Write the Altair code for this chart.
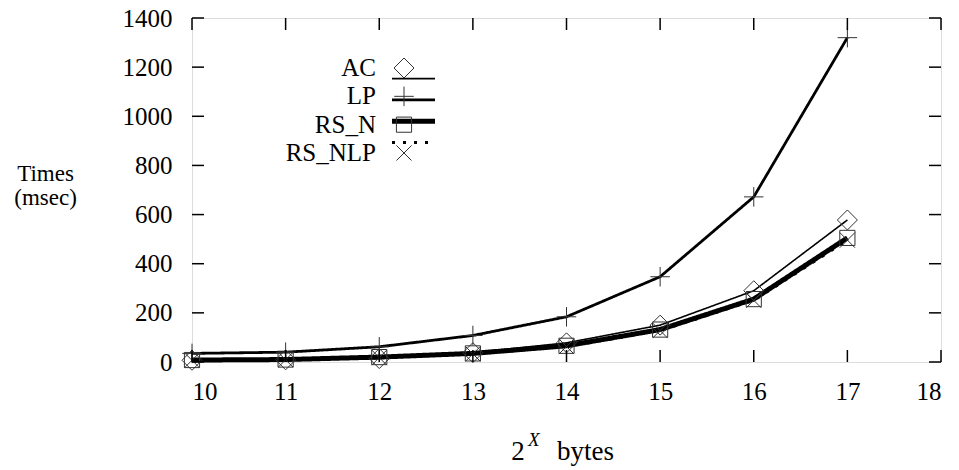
import altair as alt
import pandas as pd

# ---- data ----
x_vals = [10, 11, 12, 13, 14, 15, 16, 17]
ac = [7, 9, 14, 38, 78, 150, 290, 578]
lp = [35, 40, 62, 108, 184, 347, 672, 1320]
rs_n = [8, 10, 20, 35, 66, 132, 256, 505]
rs_nlp = [7, 9, 18, 33, 63, 128, 251, 496]
series = ["AC", "LP", "RS_N", "RS_NLP"]
x_ticks = [10, 11, 12, 13, 14, 15, 16, 17, 18]
y_ticks = [0, 200, 400, 600, 800, 1000, 1200, 1400]

FONT = "Liberation Serif"
FS = 25
W, H = 749, 344

rows = []
for name, vals in zip(series, [ac, lp, rs_n, rs_nlp]):
    for xv, yv in zip(x_vals, vals):
        rows.append({"x": xv, "y": yv, "series": name})
df = pd.DataFrame(rows)
xt = pd.DataFrame({"v": x_ticks})
yt = pd.DataFrame({"v": y_ticks})
leg = pd.DataFrame({"series": series})

plus_path = "M-1,0L1,0M0,-1L0,1"
x_path = "M-1,-1L1,1M-1,1L1,-1"

sw_scale = alt.Scale(type="ordinal", domain=series, range=[1.6, 2.8, 5, 3])
dash_scale = alt.Scale(domain=series, range=[[1, 0], [1, 0], [1, 0], [3, 8]])
shape_scale = alt.Scale(domain=series, range=["diamond", plus_path, "square", x_path])
size_scale = alt.Scale(type="ordinal", domain=series, range=[400, 380, 230, 230])

xs = alt.Scale(domain=[10, 18], nice=False)
ys = alt.Scale(domain=[0, 1400], nice=False)

x_enc = alt.X("x:Q", scale=xs,
              axis=alt.Axis(values=x_ticks, format="d", ticks=False, domain=False, grid=False,
                            labelFont=FONT, labelFontSize=FS, labelColor="black",
                            labelPadding=17, title=None))
y_enc = alt.Y("y:Q", scale=ys,
              axis=alt.Axis(values=y_ticks, format="d", ticks=False, domain=False, grid=False,
                            labelFont=FONT, labelFontSize=FS, labelColor="black",
                            labelPadding=20, title=["Times", "(msec)"], titleAngle=0,
                            titleFont=FONT, titleFontSize=23, titleFontWeight="normal",
                            titleColor="black", titleAlign="center", titleBaseline="middle",
                            titleX=-147, titleY=155, titleLineHeight=24))

lines = alt.Chart(df).mark_line(color="black").encode(
    x=x_enc, y=y_enc, detail="series:N",
    strokeWidth=alt.StrokeWidth("series:N", scale=sw_scale, legend=None),
    strokeDash=alt.StrokeDash("series:N", scale=dash_scale, legend=None),
)
points = alt.Chart(df).mark_point(filled=False, color="#333", strokeWidth=1, opacity=1).encode(
    x=alt.X("x:Q", scale=xs), y=alt.Y("y:Q", scale=ys),
    shape=alt.Shape("series:N", scale=shape_scale, legend=None),
    size=alt.Size("series:N", scale=size_scale, legend=None),
)

tick_style = dict(color="black", strokeWidth=1.5)
xt_bot = alt.Chart(xt).mark_rule(**tick_style).encode(
    x=alt.X("v:Q", scale=xs), y=alt.value(H), y2=alt.value(H - 12))
xt_top = alt.Chart(xt).mark_rule(**tick_style).encode(
    x=alt.X("v:Q", scale=xs), y=alt.value(0), y2=alt.value(12))
yt_left = alt.Chart(yt).mark_rule(**tick_style).encode(
    y=alt.Y("v:Q", scale=ys), x=alt.value(0), x2=alt.value(12))
yt_right = alt.Chart(yt).mark_rule(**tick_style).encode(
    y=alt.Y("v:Q", scale=ys), x=alt.value(W), x2=alt.value(W - 12))

main = alt.layer(lines, points, xt_bot, xt_top, yt_left, yt_right)

# ---- custom legend (label left, sample right) ----
leg_y = alt.Y("series:N", scale=alt.Scale(domain=series, range=[50, 135], padding=0), axis=None)
leg_text = alt.Chart(leg).mark_text(align="right", baseline="middle", font=FONT,
                                    fontSize=FS, color="black").encode(
    x=alt.value(184), y=leg_y, text="series:N")
leg_line = alt.Chart(leg).mark_rule(color="black").encode(
    x=alt.value(200), x2=alt.value(243), y=leg_y,
    strokeWidth=alt.StrokeWidth("series:N", scale=sw_scale, legend=None),
    strokeDash=alt.StrokeDash("series:N", scale=dash_scale, legend=None))
leg_pts = alt.Chart(leg).mark_point(filled=False, color="#333", strokeWidth=1, opacity=1).encode(
    x=alt.value(212), y=leg_y,
    shape=alt.Shape("series:N", scale=shape_scale, legend=None),
    size=alt.Size("series:N", scale=size_scale, legend=None))

# ---- x title "2^X bytes" ----
one = alt.Data(values=[{"a": 1}])
t2 = alt.Chart(one).mark_text(font=FONT, fontSize=FS + 2, align="center", baseline="alphabetic",
                              color="black").encode(
    x=alt.value(326), y=alt.value(442), text=alt.value("2"))
tX = alt.Chart(one).mark_text(font=FONT, fontSize=19, fontStyle="italic", align="left",
                              baseline="alphabetic", color="black").encode(
    x=alt.value(336), y=alt.value(428), text=alt.value("X"))
tb = alt.Chart(one).mark_text(font=FONT, fontSize=27, align="left", baseline="alphabetic",
                              color="black").encode(
    x=alt.value(365), y=alt.value(442), text=alt.value("bytes"))

chart = alt.layer(main, leg_text, leg_line, leg_pts, t2, tX, tb).resolve_scale(
    y="independent"
).properties(
    width=W, height=H,
    autosize=alt.AutoSizeParams(type="none"),
    padding={"left": 184, "top": 10, "right": 10, "bottom": 108},
).configure_view(stroke="black", strokeWidth=2.5).configure(background="white")

chart.save("out.html", embed_options={"renderer": "svg", "actions": False})
